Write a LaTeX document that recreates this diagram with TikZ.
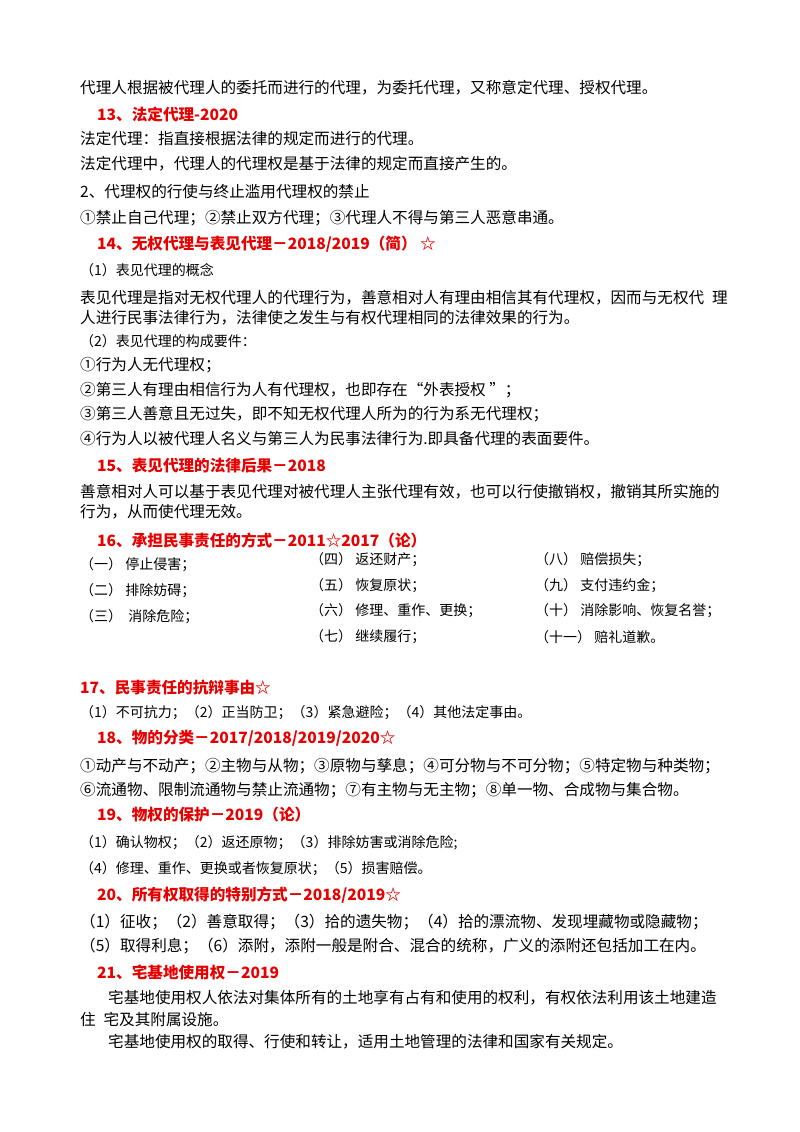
\documentclass[tikz,border=0pt]{standalone}
\usepackage{fontspec}
\setmainfont{Noto Sans CJK SC}
\definecolor{hred}{RGB}{230,0,0}
\begin{document}
\begin{tikzpicture}[x=1pt,y=-1pt,
  t/.style={anchor=west,inner sep=0pt,font=\fontsize{15.6}{17}\selectfont},
  ts/.style={anchor=west,inner sep=0pt,font=\fontsize{14}{16}\selectfont},
  h/.style={anchor=west,inner sep=0pt,text=hred,font=\fontsize{15.6}{17}\selectfont\bfseries}]
\path[use as bounding box] (0,0) rectangle (800,1132);
\node[t] (l1) at (80,88) {代理人根据被代理人的委托而进行的代理，为委托代理，又称意定代理、授权代理。};
\node[h] (h13) at (97,114) {13、法定代理-2020};
\node[t] (l2) at (80,139) {法定代理：指直接根据法律的规定而进行的代理。};
\node[t] (l3) at (80,164) {法定代理中，代理人的代理权是基于法律的规定而直接产生的。};
\node[t] (l4) at (80,192) {2、代理权的行使与终止滥用代理权的禁止};
\node[t] (l5) at (80,218) {①禁止自己代理；②禁止双方代理；③代理人不得与第三人恶意串通。};
\node[h] (h14) at (97,244) {14、无权代理与表见代理－2018/2019（简） ☆};
\node[ts] (l6) at (80,270) {（1）表见代理的概念};
\node[t] (l7) at (80,298) {表见代理是指对无权代理人的代理行为，善意相对人有理由相信其有代理权，因而与无权代\enspace 理};
\node[t] (l8) at (80,318) {人进行民事法律行为，法律使之发生与有权代理相同的法律效果的行为。};
\node[ts] (l9) at (80,341) {（2）表见代理的构成要件：};
\node[t] (l10) at (80,365) {①行为人无代理权；};
\node[t] (l11) at (80,390) {②第三人有理由相信行为人有代理权，也即存在“外表授权 ”；};
\node[t] (l12) at (80,414) {③第三人善意且无过失，即不知无权代理人所为的行为系无代理权；};
\node[t] (l13) at (80,439) {④行为人以被代理人名义与第三人为民事法律行为.即具备代理的表面要件。};
\node[h] (h15) at (97,466) {15、表见代理的法律后果－2018};
\node[t] (l14) at (80,492) {善意相对人可以基于表见代理对被代理人主张代理有效，也可以行使撤销权，撤销其所实施的};
\node[t] (l15) at (80,512) {行为，从而使代理无效。};
\node[h] (h16) at (97,540) {16、承担民事责任的方式－2011☆2017（论）};
\node[ts] (a1) at (80,565) {（一）\ 停止侵害；};
\node[ts] (a2) at (80,591) {（二）\ 排除妨碍；};
\node[ts] (a3) at (80,617) {（三）\ \ 消除危险；};
\node[ts] (b1) at (310,560) {（四）\ 返还财产；};
\node[ts] (b2) at (310,586) {（五）\ 恢复原状；};
\node[ts] (b3) at (310,611) {（六）\ 修理、重作、更换；};
\node[ts] (b4) at (310,637) {（七）\ 继续履行；};
\node[ts] (c1) at (535,560) {（八）\ 赔偿损失；};
\node[ts] (c2) at (535,586) {（九）\ 支付违约金；};
\node[ts] (c3) at (535,611) {（十）\ 消除影响、恢复名誉；};
\node[ts] (c4) at (535,637) {（十一）\ 赔礼道歉。};
\node[h] (h17) at (80,688) {17、民事责任的抗辩事由☆};
\node[ts] (l16) at (80,713) {（1）不可抗力；（2）正当防卫；（3）紧急避险；（4）其他法定事由。};
\node[h] (h18) at (97,738) {18、物的分类－2017/2018/2019/2020☆};
\node[t] (l17) at (80,766) {①动产与不动产；②主物与从物；③原物与孳息；④可分物与不可分物；⑤特定物与种类物；};
\node[t] (l18) at (80,790) {⑥流通物、限制流通物与禁止流通物；⑦有主物与无主物；⑧单一物、合成物与集合物。};
\node[h] (h19) at (97,815) {19、物权的保护－2019（论）};
\node[ts] (l19) at (80,843) {（1）确认物权；（2）返还原物；（3）排除妨害或消除危险;};
\node[ts] (l20) at (80,869) {（4）修理、重作、更换或者恢复原状；（5）损害赔偿。};
\node[h] (h20) at (97,895) {20、所有权取得的特别方式－2018/2019☆};
\node[t] (l21) at (80,922) {（1）征收；（2）善意取得；（3）拾的遗失物；（4）拾的漂流物、发现埋藏物或隐藏物；};
\node[t] (l22) at (80,946) {（5）取得利息；（6）添附，添附一般是附合、混合的统称，广义的添附还包括加工在内。};
\node[h] (h21) at (97,972) {21、宅基地使用权－2019};
\node[t] (l23) at (108,998) {宅基地使用权人依法对集体所有的土地享有占有和使用的权利，有权依法利用该土地建造};
\node[t] (l24) at (80,1020) {住\enspace 宅及其附属设施。};
\node[t] (l25) at (108,1042) {宅基地使用权的取得、行使和转让，适用土地管理的法律和国家有关规定。};
\end{tikzpicture}
\end{document}
